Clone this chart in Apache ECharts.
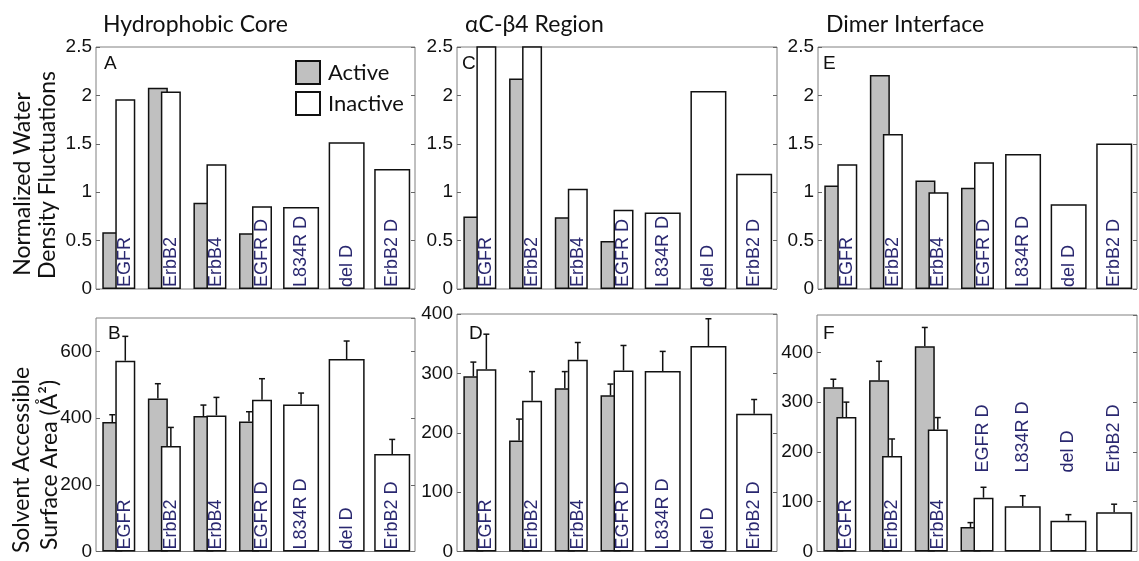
<!DOCTYPE html>
<html>
<head>
<meta charset="utf-8">
<script src="https://cdn.jsdelivr.net/npm/echarts@6/dist/echarts.min.js"></script>
<style>
html,body{margin:0;padding:0;background:#fff;}
#chart{width:1139px;height:561px;}
</style>
</head>
<body>
<div id="chart"></div>
<script>
// ---------- DATA ----------
const categories = ['EGFR', 'ErbB2', 'ErbB4', 'EGFR D', 'L834R D', 'del D', 'ErbB2 D'];
const seriesNames = ['Active', 'Inactive'];
const panelTitles = ['Hydrophobic Core', 'αC-β4 Region', 'Dimer Interface'];
const panelLetters = ['A', 'C', 'E', 'B', 'D', 'F'];
const yNameTop = ['Normalized Water', 'Density Fluctuations'];
const yNameBottom = ['Solvent Accessible', 'Surface Area (Å²)'];

// Normalized water density fluctuations (top row)
const hydroActive = [0.585, 2.08, 0.89, 0.575];
const hydroInactive = [1.96, 2.04, 1.29, 0.855, 0.846, 1.515, 1.24];
const acActive = [0.75, 2.175, 0.74, 0.497];
const acInactive = [2.9, 3.0, 1.035, 0.818, 0.79, 2.045, 1.19];
const dimerActive = [1.07, 2.21, 1.12, 1.045];
const dimerInactive = [1.29, 1.6, 1.0, 1.31, 1.395, 0.875, 1.503];

// Solvent accessible surface area (bottom row), with error (upper whisker)
const sasaHydroActive = [388, 459, 406, 390];
const sasaHydroActiveErr = [22, 44, 33, 29];
const sasaHydroInactive = [572, 316, 408, 455, 441, 577, 292];
const sasaHydroInactiveErr = [73, 56, 54, 63, 34, 54, 44];
const sasaAcActive = [295, 187, 275, 263];
const sasaAcActiveErr = [24, 36, 28, 19];
const sasaAcInactive = [307, 254, 323, 305, 304, 346, 232];
const sasaAcInactiveErr = [59, 49, 29, 42, 33, 46, 24];
const sasaDimerActive = [330, 344, 412, 49];
const sasaDimerActiveErr = [16, 38, 38, 9];
const sasaDimerInactive = [270, 192, 245, 108, 91, 62, 79];
const sasaDimerInactiveErr = [30, 34, 24, 21, 21, 12, 16];

// axis ranges [max, interval]
const axisTop = [2.5, 0.5];
const axisHydroSasa = [700, 200];
const axisAcSasa = [400, 100];
const axisDimerSasa = [475, 100];

// ---------- LAYOUT / STYLE ----------
const layouts = [
  {left: 96, top: 47, width: 319, height: 242},
  {left: 457, top: 47, width: 320, height: 242},
  {left: 818, top: 47, width: 319, height: 242},
  {left: 96, top: 318, width: 319, height: 240},
  {left: 457, top: 314, width: 320, height: 241},
  {left: 817, top: 315, width: 320, height: 241}
];
const panels = [
  {active: hydroActive, inactive: hydroInactive, axis: axisTop},
  {active: acActive, inactive: acInactive, axis: axisTop},
  {active: dimerActive, inactive: dimerInactive, axis: axisTop},
  {active: sasaHydroActive, activeErr: sasaHydroActiveErr, inactive: sasaHydroInactive, inactiveErr: sasaHydroInactiveErr, axis: axisHydroSasa, hideMax: true},
  {active: sasaAcActive, activeErr: sasaAcActiveErr, inactive: sasaAcInactive, inactiveErr: sasaAcInactiveErr, axis: axisAcSasa},
  {active: sasaDimerActive, activeErr: sasaDimerActiveErr, inactive: sasaDimerInactive, inactiveErr: sasaDimerInactiveErr, axis: axisDimerSasa, hideMax: true, raised: true}
];
const BAR_W = 20, BAR_GAP = '-35%', SINGLE_W = 36, PAIR_OFF = 6.5;
const GRAY = '#c0c0c0', EDGE = '#111111', LABEL_COLOR = '#2a2870';
const SANS = 'Liberation Sans', TITLE_FONT = 'Lato';

const grids = [], xAxes = [], yAxes = [], series = [];

function catLabel(extra) {
  return Object.assign({
    show: true, position: 'insideBottom', distance: 2, rotate: 90,
    align: 'left', verticalAlign: 'middle',
    formatter: p => categories[p.dataIndex],
    fontSize: 18, color: LABEL_COLOR, fontFamily: SANS
  }, extra || {});
}

function errSeries(pi, vals, errs, offFn) {
  return {
    type: 'custom', xAxisIndex: 2 * pi, yAxisIndex: 2 * pi, silent: true, z: 5,
    encode: {x: 0, y: 1},
    data: vals.map((v, i) => [i, v, errs[i]]),
    renderItem: function (params, api) {
      const i = api.value(0), v = api.value(1), e = api.value(2);
      const a = api.coord([i, v]), b = api.coord([i, v + e]);
      const x = a[0] + offFn(i);
      const st = {stroke: EDGE, lineWidth: 1.5};
      return {type: 'group', children: [
        {type: 'line', shape: {x1: x, y1: a[1], x2: x, y2: b[1]}, style: st},
        {type: 'line', shape: {x1: x - 3, y1: b[1], x2: x + 3, y2: b[1]}, style: st}
      ]};
    }
  };
}

panels.forEach((P, pi) => {
  grids.push(Object.assign({show: true, borderColor: '#808080', borderWidth: 1, backgroundColor: 'transparent'}, layouts[pi]));
  for (let k = 0; k < 2; k++) {
    xAxes.push({gridIndex: pi, type: 'category', data: categories, show: false});
  }
  const [mx, iv] = P.axis;
  const yBase = {
    gridIndex: pi, type: 'value', min: 0, max: mx, interval: iv,
    axisLine: {show: false}, splitLine: {show: false},
    axisTick: {show: true, inside: true, length: 4, lineStyle: {color: '#666', width: 1}}
  };
  yAxes.push(Object.assign({}, yBase, {position: 'left',
    axisLabel: {show: true, fontSize: 19, color: '#111', margin: 4, fontFamily: SANS, showMaxLabel: !P.hideMax}}));
  yAxes.push(Object.assign({}, yBase, {position: 'right', axisLabel: {show: false}}));

  const nA = P.active.length;
  const raise = i => (P.raised && i >= 3) ? {label: {distance: 79}} : {};
  const activeData = categories.map((c, i) => i < nA ? P.active[i] : null);
  const pairData = categories.map((c, i) => i < nA ? Object.assign({value: P.inactive[i]}, raise(i)) : null);
  const singleData = categories.map((c, i) => i >= nA ? Object.assign({value: P.inactive[i]}, raise(i)) : null);

  series.push({
    name: seriesNames[0], type: 'bar', xAxisIndex: 2 * pi, yAxisIndex: 2 * pi,
    data: activeData, barWidth: BAR_W, barGap: BAR_GAP, clip: true,
    itemStyle: {color: GRAY, borderColor: EDGE, borderWidth: 1.5}
  });
  series.push({
    name: seriesNames[1], type: 'bar', xAxisIndex: 2 * pi, yAxisIndex: 2 * pi,
    data: pairData, barWidth: BAR_W, barGap: BAR_GAP, clip: true,
    itemStyle: {color: '#ffffff', borderColor: EDGE, borderWidth: 1.5},
    label: catLabel()
  });
  series.push({
    name: seriesNames[1], type: 'bar', xAxisIndex: 2 * pi + 1, yAxisIndex: 2 * pi,
    data: singleData, barWidth: SINGLE_W, clip: true,
    itemStyle: {color: '#ffffff', borderColor: EDGE, borderWidth: 1.5},
    label: catLabel()
  });
  if (P.activeErr) {
    series.push(errSeries(pi, P.active, P.activeErr, i => -PAIR_OFF));
    series.push(errSeries(pi, P.inactive, P.inactiveErr, i => (i < nA ? PAIR_OFF : 0)));
  }
});

const titleLeft = [103, 465, 826];
const letterPos = [[104, 54], [462, 54], [823, 54], [108, 324], [469, 324], [823, 324]];
const titles = panelTitles.map((t, i) => ({
  text: t, left: titleLeft[i], top: 13, padding: 0,
  textStyle: {fontSize: 23, fontWeight: 'normal', fontFamily: TITLE_FONT, color: '#111'}
})).concat(panelLetters.map((t, i) => ({
  text: t, left: letterPos[i][0], top: letterPos[i][1], padding: 0,
  textStyle: {fontSize: 19, fontWeight: 'normal', fontFamily: SANS, color: '#111'}
})));

function yName(text, x, y) {
  return {type: 'text', x: x, y: y, rotation: Math.PI / 2,
    style: {text: text, fontSize: 23, fontFamily: TITLE_FONT, fill: '#111', align: 'center', verticalAlign: 'middle'}};
}

const option = {
  animation: false,
  textStyle: {fontFamily: SANS},
  title: titles,
  legend: {
    data: seriesNames, orient: 'vertical', left: 295, top: 60, padding: 0,
    icon: 'rect', itemWidth: 24, itemHeight: 23, itemGap: 6,
    itemStyle: {borderColor: EDGE, borderWidth: 2},
    textStyle: {fontSize: 22, fontFamily: TITLE_FONT, color: '#111', padding: [0, 0, 0, 3]},
    selectedMode: false
  },
  grid: grids,
  xAxis: xAxes,
  yAxis: yAxes,
  series: series,
  graphic: [
    yName(yNameTop[0], 23, 184), yName(yNameTop[1], 48, 175),
    yName(yNameBottom[0], 22, 460), yName(yNameBottom[1], 50, 465)
  ]
};

const chart = echarts.init(document.getElementById('chart'), null, {renderer: 'canvas'});
chart.setOption(option);
</script>
</body>
</html>
